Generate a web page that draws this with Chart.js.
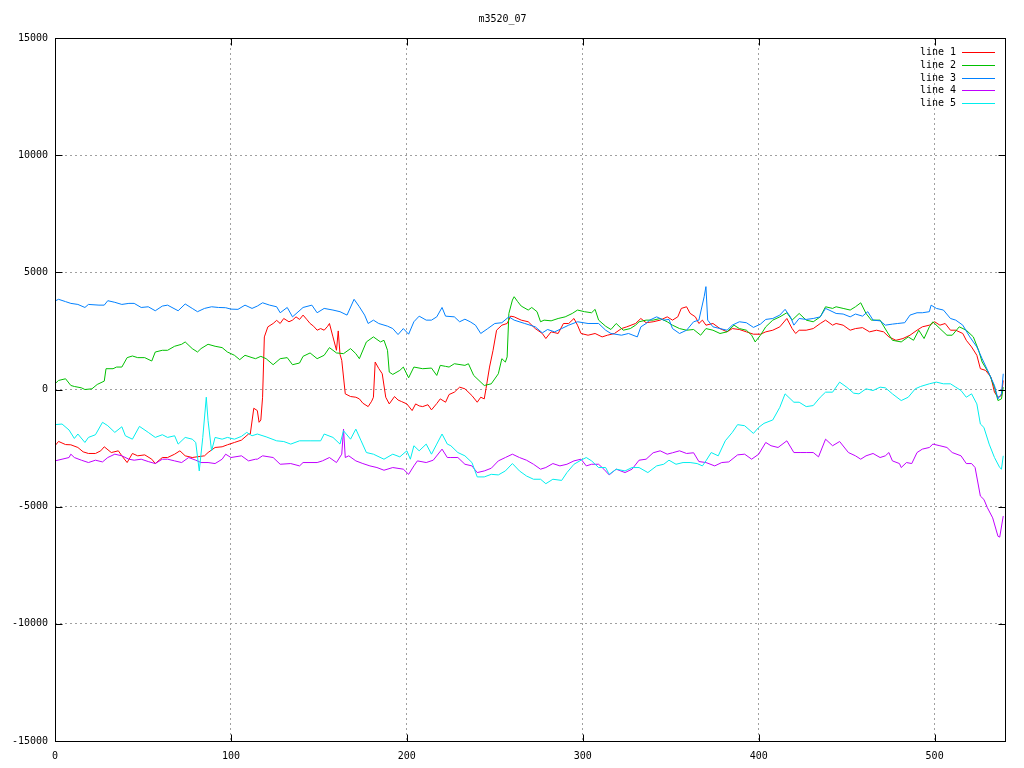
<!DOCTYPE html>
<html>
<head>
<meta charset="utf-8">
<script src="https://cdn.jsdelivr.net/npm/chart.js@4.4.1/dist/chart.umd.min.js"></script>
<style>
  html, body { margin: 0; padding: 0; background: #fff; }
</style>
</head>
<body>
<canvas id="myChart" width="1024" height="768"></canvas>
<script>
// data
const line1X = [0,2,6,9,13,16,19,23,26,28,32,36,38,41,44,47,51,55,57,61,64,68,71,74,78,81,85,87,91,95,98,102,106,110,111,113,115,116,117,118,119,121,124,126,128,130,133,135,137,139,141,143,145,147,149,151,153,155,156,158,160,161,162,163,165,168,171,173,175,178,180,181,182,184,186,188,190,193,195,197,200,203,205,207,209,212,214,217,219,222,224,227,230,233,237,240,242,244,245,247,249,251,254,257,259,261,265,269,273,277,279,282,286,289,292,295,297,299,303,307,311,314,318,322,325,330,333,336,340,344,348,351,354,356,359,361,364,366,368,370,374,378,382,385,389,393,397,401,404,408,412,416,419,421,423,427,431,435,438,442,444,448,452,455,459,463,467,471,474,478,482,486,490,493,497,500,503,506,509,512,516,518,521,524,526,529,532,534,536,538,539];
const line1Y = [-2400,-2216,-2350,-2360,-2474,-2660,-2730,-2730,-2617,-2445,-2690,-2617,-2830,-3117,-2730,-2830,-2790,-2974,-3160,-2903,-2903,-2760,-2617,-2830,-2903,-2870,-2830,-2690,-2474,-2445,-2360,-2260,-2160,-1900,-1900,-800,-900,-1400,-1300,-330,2245,2674,2817,2950,2817,3030,2890,2960,3100,2990,3175,3000,2817,2700,2530,2600,2530,2700,2817,2245,1673,2500,1500,1244,-186,-300,-330,-400,-586,-730,-500,-330,1172,900,672,-330,-615,-300,-450,-515,-615,-900,-615,-700,-730,-650,-870,-600,-400,-543,-215,-114,100,30,-260,-543,-330,-400,43,958,1673,2530,2745,2817,3130,3100,2960,2890,2600,2390,2175,2460,2390,2817,2817,3030,2745,2390,2317,2390,2245,2317,2390,2600,2674,2817,3030,2850,2890,2960,3100,2960,3100,3460,3530,3250,3100,2817,2960,2745,2817,2600,2460,2600,2560,2460,2360,2360,2460,2530,2674,3030,2600,2390,2530,2530,2600,2817,2960,2745,2817,2745,2530,2600,2640,2460,2530,2460,2245,2100,2175,2317,2530,2674,2745,2890,2745,2817,2530,2530,2390,2100,1816,1459,887,815,530,-114,-330,-260,386];

const line2X = [0,2,6,9,11,15,17,21,24,28,29,33,35,38,41,44,47,51,55,57,61,64,68,72,74,78,81,83,87,91,95,98,102,105,108,112,114,117,120,124,128,132,135,139,141,145,149,153,156,160,164,168,171,173,177,181,185,187,189,190,192,196,198,201,204,209,214,217,219,222,224,227,233,235,238,241,244,248,252,254,256,257,258,260,261,263,265,269,271,274,276,278,282,286,290,294,297,301,305,307,309,313,316,319,323,327,330,332,336,340,344,348,351,355,359,363,367,370,374,378,382,386,389,393,396,398,401,404,408,412,416,419,423,427,431,435,438,442,444,448,452,455,458,461,464,469,473,476,481,485,488,491,494,497,499,503,507,510,514,518,522,525,527,531,534,536,538,539];
const line2Y = [243,386,458,172,129,72,0,29,215,358,887,887,958,958,1360,1430,1360,1360,1215,1600,1673,1673,1845,1930,2030,1745,1600,1745,1930,1845,1787,1600,1460,1273,1460,1360,1315,1415,1315,1058,1315,1360,1058,1130,1415,1560,1315,1460,1787,1560,1530,1745,1530,1315,2030,2245,2030,2100,1673,743,643,815,958,500,958,887,915,600,1030,987,958,1100,1030,1100,600,386,172,243,672,1315,1170,1390,3245,3818,3960,3750,3560,3390,3500,3320,2890,2960,2930,3030,3100,3245,3390,3320,3275,3420,2960,2700,2560,2817,2530,2600,2745,2890,2960,2960,3030,2890,2745,2600,2530,2560,2317,2600,2530,2390,2460,2745,2600,2530,2317,2030,2317,2674,2960,3100,3275,2960,3245,2960,2890,3100,3530,3460,3530,3460,3390,3530,3700,3245,2960,2960,2460,2100,2030,2245,2100,2530,2175,2674,2890,2600,2317,2317,2674,2530,2245,1673,1173,672,100,-472,-400,100];

const line3X = [0,2,6,9,13,17,19,25,28,30,34,38,42,45,49,53,57,61,64,70,74,78,81,85,89,93,97,100,104,108,112,115,118,122,126,128,132,135,141,146,149,153,158,162,166,170,173,176,178,181,184,189,192,195,198,201,204,207,211,214,217,220,222,227,230,233,236,239,242,246,250,254,258,261,267,273,277,280,284,288,292,297,303,309,313,316,322,326,331,333,336,338,342,346,349,351,355,359,363,366,369,370,371,374,378,382,385,389,393,397,401,404,408,412,415,418,420,423,427,431,435,438,440,444,448,452,455,459,462,465,469,472,476,479,483,486,490,493,497,498,501,505,509,512,516,520,524,527,531,534,536,538,539];
const line3Y = [3775,3850,3750,3675,3630,3500,3630,3600,3600,3790,3720,3630,3675,3675,3500,3530,3360,3560,3600,3360,3650,3460,3320,3460,3530,3500,3490,3430,3420,3600,3460,3560,3700,3600,3530,3275,3500,3100,3500,3600,3275,3460,3390,3320,3175,3850,3530,3175,2817,2960,2817,2703,2600,2345,2600,2360,2890,3130,2960,2960,3100,3500,3130,3100,2890,3000,2890,2746,2390,2600,2817,2850,3100,2960,2817,2674,2417,2560,2460,2600,2746,2890,2817,2817,2530,2390,2317,2390,2245,2674,2817,2960,3100,2960,2990,2600,2390,2530,2890,2960,3960,4390,2960,2674,2600,2530,2746,2890,2850,2650,2790,2990,3030,3175,3420,3100,2746,3030,2990,3030,3100,3460,3390,3245,3220,3100,3220,3130,3320,2960,2930,2746,2790,2817,2850,3175,3275,3275,3320,3600,3460,3390,3030,2960,2746,2245,1816,1316,672,172,-400,-186,672];

const line4X = [0,4,8,9,11,15,19,23,27,30,34,38,42,45,49,53,57,61,64,68,72,76,80,83,87,91,95,97,100,106,110,114,115,118,124,128,134,139,141,149,152,156,160,163,164,165,167,171,175,179,183,187,192,198,201,204,206,211,215,220,223,225,229,233,237,240,244,248,252,256,260,264,268,272,276,279,283,287,291,295,299,302,305,309,312,315,319,324,328,332,336,340,344,348,351,355,359,363,366,370,375,379,383,388,392,396,400,404,407,411,416,420,424,427,431,434,438,442,446,451,455,458,461,465,469,472,474,476,480,481,484,487,490,493,497,499,503,507,510,515,518,521,523,526,528,530,533,536,537,539];
const line4Y = [-3046,-2974,-2903,-2760,-2903,-3017,-3117,-3017,-3090,-2903,-2760,-2830,-2974,-3017,-2974,-3075,-3160,-2974,-2974,-3046,-3117,-2903,-3017,-3117,-3117,-3160,-2974,-2760,-2903,-2830,-3046,-2974,-2974,-2830,-2903,-3190,-3160,-3260,-3117,-3117,-3046,-2903,-3117,-2760,-1690,-2903,-2830,-3046,-3160,-3260,-3330,-3445,-3330,-3400,-3620,-3260,-3046,-3117,-3017,-2545,-2903,-2903,-2903,-3190,-3260,-3545,-3475,-3360,-3046,-2903,-2760,-2903,-3017,-3190,-3400,-3330,-3160,-3260,-3190,-3046,-2974,-3260,-3190,-3190,-3400,-3645,-3400,-3545,-3400,-3017,-2974,-2700,-2617,-2760,-2700,-2617,-2730,-2700,-3075,-3117,-3260,-3117,-3090,-2790,-2760,-2974,-2760,-2260,-2400,-2474,-2190,-2690,-2690,-2690,-2690,-2874,-2120,-2400,-2220,-2690,-2830,-2974,-2830,-2730,-2903,-2830,-2690,-3046,-3160,-3330,-3117,-3160,-2690,-2545,-2474,-2330,-2400,-2474,-2690,-2830,-3160,-3160,-3330,-4547,-4690,-5048,-5477,-6263,-6300,-5400];

const line5X = [0,4,8,11,13,17,19,23,27,30,34,38,40,44,48,53,57,61,64,68,70,74,78,80,82,84,86,87,89,91,95,98,102,106,109,112,115,120,126,130,134,139,145,151,153,158,162,164,168,171,174,177,181,187,192,196,200,202,204,207,211,214,217,220,223,225,229,233,237,240,244,248,252,256,260,264,268,272,276,279,283,288,291,295,299,302,305,309,313,315,319,324,328,332,337,342,346,349,353,357,361,365,368,370,373,377,381,385,388,392,397,400,403,408,412,415,420,423,427,431,435,438,442,446,450,454,457,461,465,469,472,476,481,485,489,492,497,501,505,509,512,515,518,521,524,526,528,531,534,537,538,539];
const line5Y = [-1500,-1473,-1730,-2090,-1900,-2260,-2045,-1930,-1400,-1545,-1830,-1590,-1975,-2120,-1573,-1830,-2045,-1930,-2045,-1975,-2330,-2045,-2120,-2260,-3475,-2045,-330,-1330,-2617,-2045,-2120,-2045,-2120,-2000,-1830,-1975,-1900,-2020,-2190,-2220,-2330,-2190,-2190,-2190,-1900,-2045,-2330,-1760,-2120,-1690,-2190,-2690,-2760,-2975,-2760,-2874,-2617,-2975,-2400,-2617,-2330,-2760,-2330,-1900,-2330,-2400,-2690,-2830,-3117,-3730,-3730,-3620,-3645,-3475,-3160,-3475,-3690,-3830,-3830,-4020,-3830,-3880,-3545,-3190,-3017,-2903,-3046,-3330,-3330,-3620,-3400,-3475,-3330,-3330,-3545,-3260,-3190,-3017,-3190,-3117,-3117,-3160,-3260,-3046,-2690,-2830,-2190,-1830,-1500,-1545,-1873,-1616,-1445,-1300,-760,-185,-543,-543,-730,-686,-330,-114,-114,315,100,-157,-186,29,-43,100,72,-186,-472,-330,29,129,243,315,243,243,100,-43,-330,-186,-615,-1473,-1616,-2330,-2900,-3330,-3400,-2830];

const seriesNames = ["line 1", "line 2", "line 3", "line 4", "line 5"];
const seriesColors = ["#ff0000", "#00c000", "#0080ff", "#c000ff", "#00eeee"];
const yTicks = [-15000, -10000, -5000, 0, 5000, 10000, 15000];
const xTicks = [0, 100, 200, 300, 400, 500];

const xs = [line1X, line2X, line3X, line4X, line5X];
const ys = [line1Y, line2Y, line3Y, line4Y, line5Y];

const font = { family: "DejaVu Sans Mono", size: 10, weight: "normal" };

const datasets = seriesNames.map((name, i) => ({
  label: name,
  data: xs[i].map((x, j) => ({ x: x, y: ys[i][j] })),
  borderColor: seriesColors[i],
  borderWidth: 1,
  pointRadius: 0,
  tension: 0,
  fill: false,
  order: 5 - i,
}));

// gnuplot style frame, inward ticks and key
const framePlugin = {
  id: "frame",
  afterDraw(chart) {
    const { ctx, chartArea: a, scales } = chart;
    const L = Math.round(a.left) + 0.5, R = Math.round(a.right) + 0.5;
    const T = Math.round(a.top) + 0.5, B = Math.round(a.bottom) + 0.5;
    ctx.save();
    ctx.setLineDash([]);
    ctx.strokeStyle = "#000";
    ctx.lineWidth = 1;
    ctx.strokeRect(L, T, R - L, B - T);
    ctx.beginPath();
    yTicks.forEach(v => {
      const py = Math.round(scales.y.getPixelForValue(v)) + 0.5;
      ctx.moveTo(L, py); ctx.lineTo(L + 7, py);
      ctx.moveTo(R, py); ctx.lineTo(R - 7, py);
    });
    xTicks.forEach(v => {
      const px = Math.round(scales.x.getPixelForValue(v)) + 0.5;
      ctx.moveTo(px, B); ctx.lineTo(px, B - 7);
      ctx.moveTo(px, T); ctx.lineTo(px, T + 7);
    });
    ctx.stroke();

    // key
    ctx.font = font.size + "px " + font.family;
    ctx.textAlign = "right";
    ctx.textBaseline = "middle";
    seriesNames.forEach((name, i) => {
      const yy = Math.round(52 + i * 12.8);
      ctx.fillStyle = "#000";
      ctx.fillText(name, 956, yy);
      ctx.strokeStyle = seriesColors[i];
      ctx.lineWidth = 1;
      ctx.beginPath();
      ctx.moveTo(962, yy + 0.5);
      ctx.lineTo(995, yy + 0.5);
      ctx.stroke();
    });
    ctx.restore();
  },
};

const config = {
  type: "line",
  data: { datasets: datasets },
  options: {
    responsive: false,
    animation: false,
    layout: { padding: { left: 0, right: 19, top: 0, bottom: 0 } },
    plugins: {
      legend: { display: false },
      tooltip: { enabled: false },
      title: {
        display: true,
        text: "m3520_07",
        color: "#000",
        font: font,
        padding: { top: 13, bottom: 13 },
      },
    },
    scales: {
      x: {
        type: "linear",
        min: 0,
        max: 540,
        afterBuildTicks: s => { s.ticks = xTicks.map(v => ({ value: v })); },
        afterFit: s => { s.height = 27; },
        ticks: { color: "#000", font: font, padding: 9, maxRotation: 0, callback: v => String(v) },
        grid: { color: "#a0a0a0", drawTicks: false, borderDash: [2, 3] },
        border: { display: false, dash: [2, 3] },
      },
      y: {
        type: "linear",
        min: -15000,
        max: 15000,
        afterBuildTicks: s => { s.ticks = yTicks.map(v => ({ value: v })); },
        afterFit: s => { s.width = 55; },
        ticks: { color: "#000", font: font, padding: 7, callback: v => String(v) },
        grid: { color: "#a0a0a0", drawTicks: false, borderDash: [2, 3] },
        border: { display: false, dash: [2, 3] },
      },
    },
  },
  plugins: [framePlugin],
};

const myChart = new Chart(document.getElementById("myChart"), config);
</script>
</body>
</html>
